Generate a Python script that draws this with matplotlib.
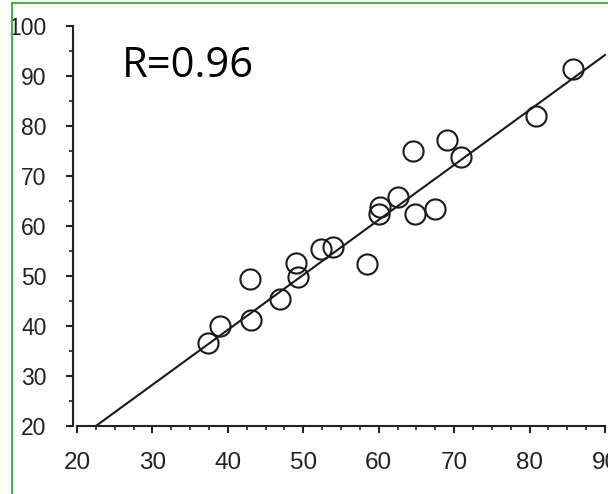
import matplotlib.pyplot as plt
from matplotlib.patches import Rectangle
from matplotlib.ticker import MultipleLocator

x_vals = [37.4, 38.9, 42.9, 43.1, 46.9, 49.0, 49.3, 52.4, 53.9, 58.4,
          60.0, 60.2, 62.6, 64.8, 67.5, 64.6, 69.0, 70.9, 80.9, 85.7]
y_vals = [36.7, 40.0, 49.5, 41.2, 45.5, 52.7, 49.9, 55.5, 55.9, 52.5,
          62.5, 63.9, 65.9, 62.5, 63.4, 75.1, 77.2, 73.9, 82.1, 91.4]

# regression line end points
fit_x = [22.5, 90.0]
fit_y = [20.0, 94.2]

r_text = "R=0.96"

fig = plt.figure(figsize=(6.08, 4.94), dpi=100)
ax = fig.add_axes([77 / 608, 68 / 494, 528 / 608, 400 / 494])

ax.plot(fit_x, fit_y, color="#1a1a1a", lw=1.5, zorder=2)
ax.plot(x_vals, y_vals, linestyle="none", marker="o", markersize=14.5,
        markerfacecolor="none", markeredgecolor="#1a1a1a",
        markeredgewidth=1.5, zorder=3)

ax.set_xlim(20, 90)
ax.set_ylim(20, 100)

ax.spines["top"].set_visible(False)
ax.spines["right"].set_visible(False)
ax.spines["left"].set_position(("outward", 3))
for s in ["left", "bottom"]:
    ax.spines[s].set_linewidth(1.5)
    ax.spines[s].set_color("#222222")

ax.xaxis.set_major_locator(MultipleLocator(10))
ax.xaxis.set_minor_locator(MultipleLocator(2.5))
ax.yaxis.set_major_locator(MultipleLocator(10))
ax.yaxis.set_minor_locator(MultipleLocator(5))

ax.tick_params(axis="x", which="major", length=5, width=1.5, pad=14,
               labelsize=17.5, colors="#222222")
ax.tick_params(axis="x", which="minor", length=3, width=1.2, colors="#222222")
ax.tick_params(axis="y", which="major", length=5, width=1.5, pad=14,
               labelsize=16.5, colors="#222222")
ax.tick_params(axis="y", which="minor", length=3, width=1.2, colors="#222222")
for lab in ax.get_xticklabels() + ax.get_yticklabels():
    lab.set_fontfamily(["Liberation Sans Narrow", "Liberation Sans"])
    lab.set_color("#222222")

for ln in ax.lines:
    ln.set_clip_on(False)

fig.text(122 / 608, 1 - 77 / 494, r_text, fontsize=30, family="Open Sans",
         color="black", va="baseline", ha="left")

# green frame around the picture (cropped at right and bottom)
fig.patches.append(Rectangle((12 / 608, -0.1), 1.2, 1 - 3 / 494 + 0.1,
                             transform=fig.transFigure, fill=False,
                             edgecolor="#4caf50", lw=1.5, zorder=10))

plt.savefig("out.png", dpi=100)
